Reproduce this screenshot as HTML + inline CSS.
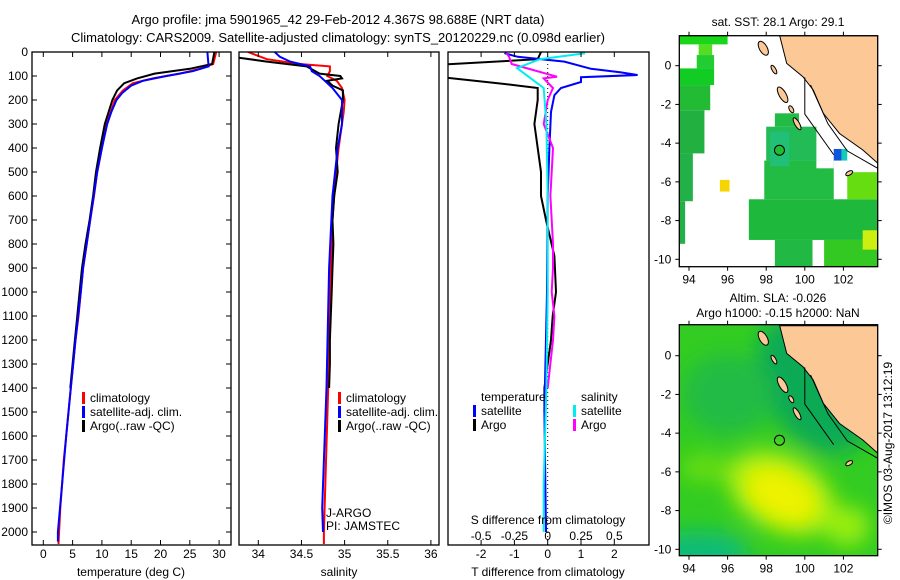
<!DOCTYPE html>
<html><head><meta charset="utf-8"><style>
body{margin:0;background:#fff}
svg{display:block;font-family:"Liberation Sans",sans-serif}
text{font-size:12px;fill:#000}
</style></head><body>
<svg id="s" width="900" height="580" viewBox="0 0 900 580">
<text x="338" y="24" text-anchor="middle" style="font-size:13px">Argo profile: jma 5901965_42 29-Feb-2012 4.367S 98.688E (NRT data)</text>
<text x="338" y="42" text-anchor="middle" style="font-size:13px">Climatology: CARS2009. Satellite-adjusted climatology: synTS_20120229.nc (0.098d earlier)</text>
<g id="g"></g>
</svg>
<script>
// ---------- data ----------
const tDepth = [0,50,70,90,110,130,160,200,300,400,500,600,700,800,900,1000,1100,1200,1300,1400,1500,1600,1700,1800,1900,2000,2050];
const tClim  = [29.5,29.0,26.7,23.3,18.7,15.3,13.6,12.2,10.8,10.0,9.2,8.65,8.0,7.4,6.8,6.4,6.0,5.5,5.1,4.7,4.3,3.9,3.5,3.2,2.9,2.7,2.6];
const tSatDepth = [0,60,80,100,120,140,170,200,250,300,400,500,600,700,800,900,1000,1200,1400,1600,1800,2000,2040];
const tSat   = [28.0,28.2,25.5,21.0,17.0,15.0,13.5,12.5,11.6,10.9,10.0,9.2,8.6,8.0,7.4,6.8,6.4,5.5,4.7,3.9,3.2,2.5,2.5];
const tArgoDepth = [0,50,70,90,110,130,160,200,300,400,500,600,700,800,900,1000,1100,1200,1300,1400];
const tArgo  = [29.2,28.8,25.0,19.0,16.0,13.8,12.6,11.8,10.5,9.7,9.0,8.5,7.9,7.2,6.6,6.2,5.8,5.4,5.0,4.6];

const sDepth = [0,30,50,60,80,100,120,150,200,250,300,400,500,600,700,800,900,1400,2000,2050];
const sClim  = [33.88,34.1,34.48,34.83,34.83,34.8,34.91,34.97,35.0,34.99,34.97,34.93,34.9,34.88,34.86,34.85,34.84,34.81,34.76,34.76];
const sSatDepth = [0,20,40,60,80,100,120,150,200,300,400,600,900,1400,1900,2000];
const sSat   = [34.19,34.25,34.37,34.6,34.62,34.71,34.77,34.86,34.97,34.97,34.92,34.86,34.82,34.79,34.74,34.75];
const sArgoDepth = [20,40,60,90,100,110,120,140,160,200,300,400,500,600,700,800,900,1000,1100,1200,1300,1400];
const sArgo  = [33.7,34.1,34.56,34.71,34.95,34.97,34.8,34.86,34.98,34.98,34.93,34.9,34.92,34.88,34.86,34.87,34.86,34.85,34.84,34.83,34.83,34.82];

const dTSatDepth = [5,20,40,70,85,96,105,125,150,180,250,400,600,1000,1500,2000];
const dTSat  = [-1.3,-0.9,0.5,1.3,2.2,2.7,1.0,1.0,0.4,0.2,0.1,0.05,0,-0.02,-0.1,-0.05];
const dTArgoDepth = [0,30,55,100,108,130,150,200,300,400,500,600,700,850,1000,1100,1200,1300,1400,1500];
const dTArgo = [-0.2,-0.3,-3.5,-3.5,-3.0,-1.5,-0.3,-0.3,-0.4,-0.3,-0.2,-0.2,-0.05,0.2,0.25,0.15,0.1,0,-0.1,-0.1];
const dSSatDepth = [5,30,67,117,150,300,600,1000,1400,1800,2000];
const dSSat  = [0.28,-0.06,-0.23,-0.11,-0.03,-0.01,0,0,-0.01,-0.03,-0.03];
const dSArgoDepth = [5,20,50,67,103,110,150,200,300,400,600,800,900,1000,1100,1200,1400];
const dSArgo = [-0.31,-0.29,-0.27,-0.16,0.07,-0.03,0.04,0,-0.03,0.04,0.02,0.04,0.04,0.03,0.05,0.04,0];

const depthTicks = [0,100,200,300,400,500,600,700,800,900,1000,1100,1200,1300,1400,1500,1600,1700,1800,1900,2000];
const tTicks = [0,5,10,15,20,25,30];
const sTicks = [34,34.5,35,35.5,36];
const sTickLabels = ['34','34.5','35','35.5','36'];
const dTTicks = [-2,-1,0,1,2];
const dSTicks = [-0.5,-0.25,0,0.25,0.5];
const dSTickLabels = ['-0.5','-0.25','0','0.25','0.5'];

// map data: [lon0, lon1, latTop, latBottom, color]
const sstPatches = [
 [93.5,96.0,1.55,1.1,'#1ad61a'],[94.5,95.2,1.1,0.55,'#55dd22'],[94.4,95.3,0.55,-0.14,'#22cc33'],
 [93.5,95.3,-0.14,-1.0,'#11cc22'],[93.5,95.1,-1.0,-2.3,'#22bb33'],[93.5,94.8,-2.3,-4.53,'#22b040'],
 [93.5,94.2,-4.53,-7.0,'#22b048'],[93.5,93.8,-7.0,-9.2,'#22b048'],
 [98.45,99.7,-2.46,-3.15,'#22bb44'],[98.0,100.6,-3.15,-4.9,'#22bb55'],[97.9,101.5,-4.9,-6.9,'#22bb44'],
 [98.2,99.2,-3.4,-5.2,'#22bf77'],
 [97.1,103.8,-6.9,-9.0,'#1eb83c'],[98.45,100.4,-9.0,-10.38,'#22b844'],[101.0,103.8,-9.0,-10.38,'#33c822'],
 [100.6,101.5,-4.9,-5.3,'#ffffff'],
 [102.2,103.8,-5.5,-6.9,'#66dd11'],[103.0,103.8,-8.5,-9.5,'#ccee11'],
 [101.5,101.9,-4.3,-4.9,'#1155dd'],[101.9,102.2,-4.3,-4.9,'#11ccbb'],[95.6,96.1,-5.9,-6.5,'#f5d400']
];
const landLon = [98.7,99.06,99.9,100.44,100.96,101.8,103.0,103.78,103.78];
const landLat = [1.55,0.12,-0.57,-1.26,-2.46,-3.5,-4.35,-5.04,1.55];
const islandLon = [97.85,98.85,98.4,99.3,99.6,102.3];
const islandLat = [0.9,-1.5,-0.2,-2.25,-3.0,-5.55];
const islandRx = [0.2,0.18,0.1,0.1,0.12,0.2];
const islandRy = [0.4,0.45,0.25,0.2,0.35,0.1];
const argoLon = 98.688, argoLat = -4.367;
const lonTicks = [94,96,98,100,102];
const latTicks = [0,-2,-4,-6,-8,-10];

// ---------- drawing ----------
const NS='http://www.w3.org/2000/svg';
const G=document.getElementById('g');
function el(tag,attrs,parent,txt){const e=document.createElementNS(NS,tag);for(const k in attrs)e.setAttribute(k,attrs[k]);if(txt!==undefined)e.textContent=txt;(parent||G).appendChild(e);return e;}
const Y0=52, YS=0.24, YB=545;
const yD=d=>Y0+d*YS;

function panel(name,x0,x1,xf,xs,depthAxis){
  const g=el('g',{});
  
  
  const cid='c'+name;
  const cp=el('clipPath',{id:cid},g);el('rect',{x:x0,y:Y0,width:x1-x0,height:YB-Y0},cp);
  const series=el('g',{'clip-path':'url(#'+cid+')'},g);
  const fr=el('rect',{x:x0,y:Y0,width:x1-x0,height:YB-Y0,fill:'none',stroke:'#000','stroke-width':1.3},g);
  
  
  if(depthAxis){
    depthTicks.forEach(d=>{
      el('line',{x1:x0,x2:x0+5,y1:yD(d),y2:yD(d),stroke:'#000'},g);
      el('line',{x1:x1-5,x2:x1,y1:yD(d),y2:yD(d),stroke:'#000'},g);
      const t=el('text',{x:x0-4,y:yD(d)+4,'text-anchor':'end'},g,String(d));
      
      
    });
  }
  return {g,series,xf};
}
function line(p,depths,vals,color,name,w){
  const pts=depths.map((d,i)=>p.xf(vals[i]).toFixed(1)+','+yD(d).toFixed(1)).join(' ');
  const l=el('polyline',{points:pts,fill:'none',stroke:color,'stroke-width':w||2,'stroke-linejoin':'miter'},p.series);
  
  
}
function xticks(p,vals,labels,x0,x1,bottomLab){
  vals.forEach((v,i)=>{
    const x=p.xf(v);
    el('line',{x1:x,x2:x,y1:YB,y2:YB-5,stroke:'#000'},p.g);
    el('line',{x1:x,x2:x,y1:Y0,y2:Y0+5,stroke:'#000'},p.g);
    if(bottomLab){const t=el('text',{x:x,y:558,'text-anchor':'middle'},p.g,labels[i]);
      
      }
  });
}
function legend(p,x,y,items){
  items.forEach((it,i)=>{
    el('rect',{x:x,y:y+i*14-10,width:3,height:12,fill:it[0]},p.g);
    const t=el('text',{x:x+8,y:y+i*14},p.g,it[1]);
    
    
  });
}

// Panel 1 temperature
const tx=v=>43.3+v*5.86;
const p1=panel('temperature-panel',32,231,tx,0,true);
line(p1,tDepth,tClim,'#f00','temp-climatology-line');
line(p1,tArgoDepth,tArgo,'#000','temp-argo-line');
line(p1,tSatDepth,tSat,'#00f','temp-satellite-line');
xticks(p1,tTicks,tTicks.map(String),32,231,true);
legend(p1,82,402,[['#f00','climatology'],['#00f','satellite-adj. clim.'],['#000','Argo(..raw -QC)']]);
let t=el('text',{x:131,y:576,'text-anchor':'middle'},p1.g,'temperature (deg C)');


// Panel 2 salinity
const sx=v=>258.3+(v-34)*86.3;
const p2=panel('salinity-panel',239,439,sx,0,false);
line(p2,sDepth,sClim,'#f00','sal-climatology-line');
line(p2,sArgoDepth,sArgo,'#000','sal-argo-line');
line(p2,sSatDepth,sSat,'#00f','sal-satellite-line');
xticks(p2,sTicks,sTickLabels,239,439,true);
legend(p2,338,402,[['#f00','climatology'],['#00f','satellite-adj. clim.'],['#000','Argo(..raw -QC)']]);
t=el('text',{x:326,y:517},p2.g,'J-ARGO');
t=el('text',{x:326,y:530},p2.g,'PI: JAMSTEC');
t=el('text',{x:339,y:576,'text-anchor':'middle'},p2.g,'salinity');

// Panel 3 differences
const dtx=v=>547.7+v*33.3, dsx=v=>547.7+v*133.2;
const p3=panel('difference-panel',448,649,dtx,0,false);
el('line',{x1:547.7,x2:547.7,y1:Y0,y2:YB,stroke:'#000','stroke-dasharray':'1,3'},p3.series);
line(p3,dTArgoDepth,dTArgo,'#000','dt-argo-line');
line(p3,dTSatDepth,dTSat,'#00f','dt-satellite-line');
line({series:p3.series,xf:dsx},dSArgoDepth,dSArgo,'#f0f','ds-argo-line');
line({series:p3.series,xf:dsx},dSSatDepth,dSSat,'#0ee','ds-satellite-line');
dTTicks.forEach(v=>{const x=dtx(v);el('line',{x1:x,x2:x,y1:YB,y2:YB-5,stroke:'#000'},p3.g);
  const l=el('text',{x:x,y:558,'text-anchor':'middle'},p3.g,String(v));});
dSTicks.forEach((v,i)=>{const x=dsx(v);el('line',{x1:x,x2:x,y1:Y0,y2:Y0+5,stroke:'#000'},p3.g);
  const l=el('text',{x:x,y:540,'text-anchor':'middle'},p3.g,dSTickLabels[i]);});
t=el('text',{x:548,y:524,'text-anchor':'middle'},p3.g,'S difference from climatology');
t=el('text',{x:548,y:576,'text-anchor':'middle'},p3.g,'T difference from climatology');
t=el('text',{x:481,y:401},p3.g,'temperature');
t=el('text',{x:581,y:401},p3.g,'salinity');
legend(p3,473,415,[['#00f','satellite'],['#000','Argo']]);
legend(p3,573,415,[['#0ee','satellite'],['#f0f','Argo']]);

// Maps
function map(name,top,bottom,lat0y,drawBg){
  const L=679.3,R=877.7;
  const mx=lon=>689+(lon-94)*19.3;
  const my=lat=>lat0y-lat*19.36;
  const g=el('g',{});
  
  
  const cid='clip'+name;
  const cp=el('clipPath',{id:cid},g);el('rect',{x:L,y:top,width:R-L,height:bottom-top},cp);
  const inner=el('g',{'clip-path':'url(#'+cid+')'},g);
  drawBg(inner,mx,my,L,R,top,bottom);
  const land=el('polygon',{points:landLon.map((v,i)=>mx(v).toFixed(1)+','+my(landLat[i]).toFixed(1)).join(' '),fill:'#fcc895',stroke:'#000','stroke-width':1},inner);
  
  islandLon.forEach((v,i)=>{const e=el('ellipse',{cx:mx(v),cy:my(islandLat[i]),rx:islandRx[i]*19.3,ry:islandRy[i]*19.36,fill:'#fcc895',stroke:'#000',transform:'rotate(-30 '+mx(v)+' '+my(islandLat[i])+')'},inner);
    });
  el('polyline',{points:[mx(100),my(-0.6),mx(100),my(-2.5),mx(101.5),my(-4.6)].join(' '),fill:'none',stroke:'#000'},inner);
  el('polyline',{points:[mx(100.3),my(-1.0),mx(101.2),my(-3.0),mx(102.2),my(-4.4),mx(103.78),my(-5.3)].join(' '),fill:'none',stroke:'#000'},inner);
  el('rect',{x:L,y:top,width:R-L,height:bottom-top,fill:'none',stroke:'#000','stroke-width':1.3},g);
  lonTicks.forEach(v=>{const x=mx(v);el('line',{x1:x,x2:x,y1:top,y2:top-4,stroke:'#000'},g);el('line',{x1:x,x2:x,y1:bottom,y2:bottom+4,stroke:'#000'},g);
    const l=el('text',{x:x,y:bottom+17,'text-anchor':'middle'},g,String(v));});
  latTicks.forEach(v=>{const y=my(v);el('line',{x1:L,x2:L-4,y1:y,y2:y,stroke:'#000'},g);el('line',{x1:R,x2:R+4,y1:y,y2:y,stroke:'#000'},g);
    const l=el('text',{x:L-8,y:y+4,'text-anchor':'end'},g,String(v));});
  return {g,mx,my};
}
const m1=map('sst-map',35.7,266.7,65.7,(g,mx,my,L,R,top,bottom)=>{
  el('rect',{x:L,y:top,width:R-L,height:bottom-top,fill:'#fff'},g);
  sstPatches.forEach(p=>{const r=el('rect',{x:mx(p[0]),y:my(p[2]),width:(p[1]-p[0])*19.3,height:(p[2]-p[3])*19.36,fill:p[4]},g);
    });
});
let c=el('circle',{cx:m1.mx(argoLon),cy:m1.my(argoLat),r:5,fill:'#22bb33',stroke:'#000'},m1.g);

t=el('text',{x:778,y:26,'text-anchor':'middle'},m1.g,'sat. SST: 28.1  Argo: 29.1');

const m2=map('sla-map',324.7,555.7,355.7,(g,mx,my,L,R,top,bottom)=>{
  const d=el('defs',{},g);
  const f=el('filter',{id:'bl',x:'-50%',y:'-50%',width:'200%',height:'200%'},d);
  el('feGaussianBlur',{stdDeviation:'10'},f);
  el('rect',{x:L,y:top,width:R-L,height:bottom-top,fill:'#33cc22'},g);
  const b=el('g',{filter:'url(#bl)'},g);
  el('ellipse',{cx:mx(100.5),cy:my(-1.5),rx:50,ry:75,fill:'#11aa55',transform:'rotate(-30 '+mx(100.5)+' '+my(-1.5)+')'},b);
  el('ellipse',{cx:mx(96),cy:my(-2),rx:45,ry:40,fill:'#22bb44'},b);
  el('ellipse',{cx:mx(94.8),cy:my(-5.8),rx:25,ry:14,fill:'#66dd11'},b);
  el('ellipse',{cx:mx(94.5),cy:my(-10.2),rx:50,ry:22,fill:'#11bb77'},b);
  el('ellipse',{cx:mx(98.8),cy:my(-7.1),rx:58,ry:38,fill:'#aaee11',transform:'rotate(28 '+mx(98.8)+' '+my(-7.1)+')'},b);
  el('ellipse',{cx:mx(98.8),cy:my(-7.2),rx:38,ry:24,fill:'#eef200',transform:'rotate(28 '+mx(98.8)+' '+my(-7.2)+')'},b);
  el('ellipse',{cx:mx(102.2),cy:my(-8.8),rx:22,ry:20,fill:'#99ee11'},b);
});
c=el('circle',{cx:m2.mx(argoLon),cy:m2.my(argoLat),r:5,fill:'none',stroke:'#000'},m2.g);

t=el('text',{x:778,y:302,'text-anchor':'middle'},m2.g,'Altim. SLA: -0.026');
t=el('text',{x:778,y:317,'text-anchor':'middle'},m2.g,'Argo h1000: -0.15 h2000: NaN');
t=el('text',{x:0,y:0,'text-anchor':'middle',transform:'translate(892 443) rotate(-90)'},G,'©IMOS 03-Aug-2017 13:12:19');

</script>
</body></html>
